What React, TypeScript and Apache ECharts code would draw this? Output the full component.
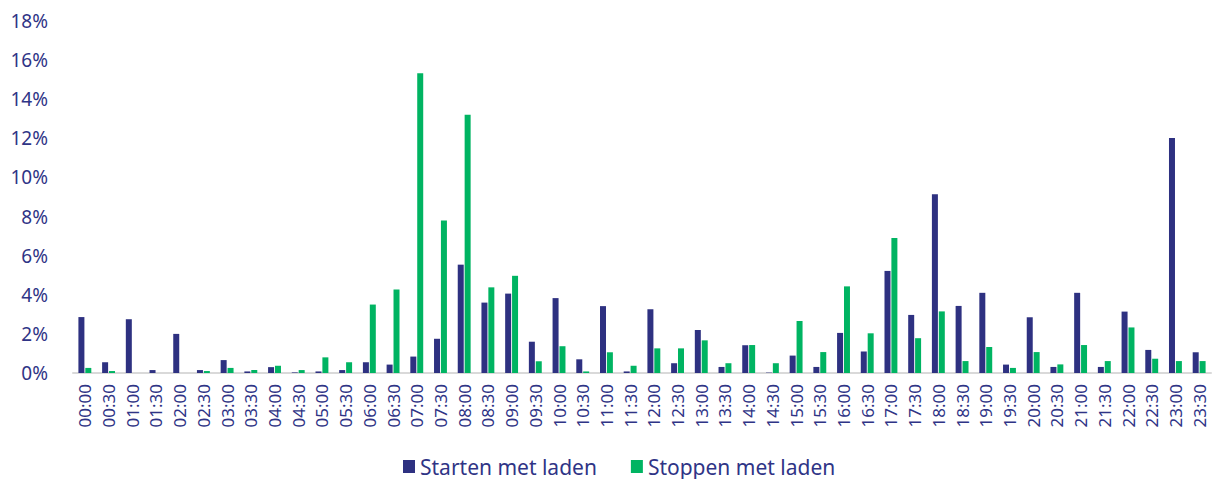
import React, { useEffect, useRef } from "react";
import * as echarts from "echarts";

const categories = [
  "00:00","00:30","01:00","01:30","02:00","02:30","03:00","03:30","04:00","04:30","05:00","05:30",
  "06:00","06:30","07:00","07:30","08:00","08:30","09:00","09:30","10:00","10:30","11:00","11:30",
  "12:00","12:30","13:00","13:30","14:00","14:30","15:00","15:30","16:00","16:30","17:00","17:30",
  "18:00","18:30","19:00","19:30","20:00","20:30","21:00","21:30","22:00","22:30","23:00","23:30",
];

const startenMetLaden = [
  2.86, 0.55, 2.75, 0.15, 2.0, 0.15, 0.66, 0.08, 0.3, 0.03, 0.08, 0.15,
  0.55, 0.43, 0.84, 1.75, 5.54, 3.6, 4.06, 1.6, 3.83, 0.7, 3.42, 0.08,
  3.26, 0.5, 2.2, 0.31, 1.42, 0.02, 0.89, 0.31, 2.05, 1.1, 5.22, 2.97,
  9.14, 3.43, 4.1, 0.43, 2.85, 0.31, 4.1, 0.31, 3.14, 1.18, 12.02, 1.06,
];

const stoppenMetLaden = [
  0.26, 0.1, 0, 0, 0, 0.1, 0.26, 0.15, 0.37, 0.15, 0.8, 0.55,
  3.5, 4.27, 15.33, 7.8, 13.2, 4.38, 4.97, 0.6, 1.37, 0.08, 1.06, 0.37,
  1.26, 1.26, 1.67, 0.5, 1.43, 0.5, 2.66, 1.07, 4.43, 2.03, 6.9, 1.78,
  3.15, 0.61, 1.33, 0.26, 1.07, 0.44, 1.43, 0.61, 2.33, 0.73, 0.61, 0.61,
];

const yTicks = { min: 0, max: 18, interval: 2 };

const NAVY = "#2E3181";
const GREEN = "#00B462";
const TEXT = "#2F3486";
const FONT = "'Noto Sans', sans-serif";

export default function App() {
  const ref = useRef<HTMLDivElement>(null);
  useEffect(() => {
    if (!ref.current) return;
    const chart = echarts.init(ref.current, undefined, { renderer: "svg" });
    chart.setOption({
      animation: false,
      textStyle: { fontFamily: FONT },
      grid: { left: 73, right: 1, top: 21, bottom: 106, containLabel: false },
      legend: {
        top: 451,
        left: 398,
        itemWidth: 12,
        itemHeight: 13,
        itemGap: 34,
        icon: "rect",
        textStyle: { color: TEXT, fontSize: 21, fontFamily: FONT },
        data: ["Starten met laden", "Stoppen met laden"],
      },
      xAxis: {
        type: "category",
        data: categories,
        axisLine: { lineStyle: { color: "#D9D9D9", width: 2 } },
        axisTick: { show: false },
        axisLabel: {
          rotate: 90,
          interval: 0,
          margin: 11,
          color: TEXT,
          fontSize: 17,
          fontFamily: FONT,
        },
      },
      yAxis: {
        type: "value",
        min: yTicks.min,
        max: yTicks.max,
        interval: yTicks.interval,
        axisLine: { show: false },
        axisTick: { show: false },
        splitLine: { show: false },
        axisLabel: {
          formatter: (v: number) => `${v}%`,
          color: TEXT,
          fontSize: 19,
          fontFamily: FONT,
          margin: 25,
        },
      },
      series: [
        {
          name: "Starten met laden",
          type: "bar",
          data: startenMetLaden,
          barWidth: 6,
          barGap: "15%",
          itemStyle: { color: NAVY },
        },
        {
          name: "Stoppen met laden",
          type: "bar",
          data: stoppenMetLaden,
          barWidth: 6,
          itemStyle: { color: GREEN },
        },
      ],
    });
    return () => chart.dispose();
  }, []);
  return <div ref={ref} style={{ width: 1212, height: 479, position: "absolute", left: 0, top: 0 }} />;
}
